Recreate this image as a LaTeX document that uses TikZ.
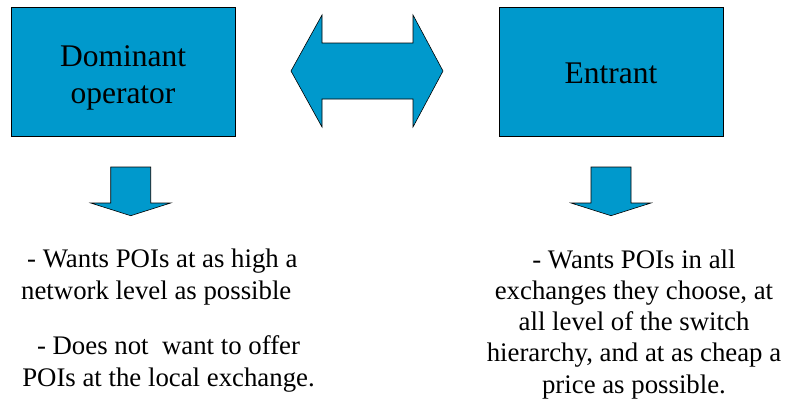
\documentclass[tikz,border=0pt]{standalone}
\usepackage{fontspec}
\setmainfont{Liberation Serif}
\usetikzlibrary{shapes,calc}
\definecolor{boxblue}{HTML}{0099CC}

\begin{document}
\begin{tikzpicture}[x=1pt,y=-1pt,
  party/.style={draw,fill=boxblue,line width=0.8pt,minimum width=224pt,minimum height=129pt,align=center,text depth=0pt,font=\fontsize{31.5}{37}\selectfont},
  claim/.style={align=center,anchor=base,inner sep=0pt,font=\fontsize{26.8}{31.2}\selectfont},
  blockarrow/.style={draw,fill=boxblue,line width=0.6pt,line join=miter}]

  \useasboundingbox (0,0) rectangle (787,402);

  \draw (123,71.5) node (dom) [party,text height=63pt] {Dominant\\operator};
  \draw (611,71.5) node (ent) [party,text height=24pt] {Entrant};

  % two-way arrow between the parties
  \draw[blockarrow] (291,71) -- (322,15) -- (322,43) -- (413,43) -- (413,15) -- (443,71)
    -- (413,127) -- (413,99) -- (322,99) -- (322,127) -- cycle;

  % arrows down to what each side wants
  \begin{scope}[shift={(130.7,0)}]
  \draw[blockarrow] (-20,167) -- (20,167) -- (20,203) -- (40,203) -- (0,215.7)
    -- (-40,203) -- (-20,203) -- cycle;
  \end{scope}

  \begin{scope}[shift={(611,0)}]
  \draw[blockarrow] (-20,167) -- (20,167) -- (20,203) -- (40,203) -- (0,215.7)
    -- (-40,203) -- (-20,203) -- cycle;
  \end{scope}

  % base anchor sits on the last line
  \draw (21,299) node (domwish) [claim,align=left,anchor=base west] {\hspace*{6pt}- Wants POIs at as high a\\network level as possible};
  \draw (168.5,386) node (domoffer) [claim] {- Does not~~want to offer\\POIs at the local exchange.};
  \draw (634,393) node (entwish) [claim] {- Wants POIs in all\\exchanges they choose, at\\all level of the switch\\hierarchy, and at as cheap a\\price as possible.};

\end{tikzpicture}
\end{document}
